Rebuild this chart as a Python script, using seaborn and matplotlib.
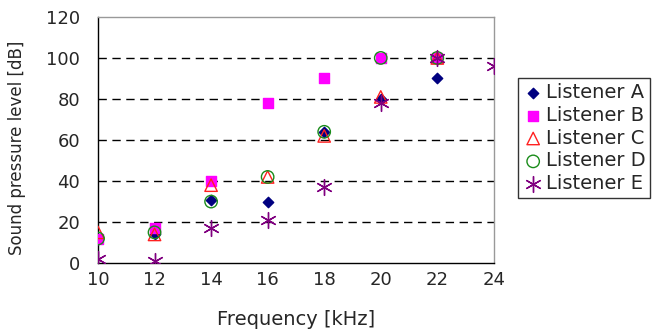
import pandas as pd
import matplotlib
matplotlib.use('Agg')
import matplotlib.pyplot as plt
import seaborn as sns

## Hearing threshold of each listener at high frequencies

# Frequencies [kHz] and sound pressure levels [dB]
freq_a = [10, 12, 14, 16, 18, 20, 22]
spl_a = [12, 14, 31, 30, 64, 80, 90]

freq_b = [10, 12, 14, 16, 18, 20, 22]
spl_b = [12, 17, 40, 78, 90, 100, 100]

freq_c = [10, 12, 14, 16, 18, 20, 22]
spl_c = [15, 14, 38, 42, 62, 81, 100]

freq_d = [10, 12, 14, 16, 18, 20, 22]
spl_d = [12, 15, 30, 42, 64, 100, 100]

freq_e = [10, 12, 14, 16, 18, 20, 22, 24]
spl_e = [2, 1, 17, 21, 37, 78, 100, 96]

listeners = ['Listener A', 'Listener B', 'Listener C', 'Listener D', 'Listener E']

# Build one long table for seaborn
frames = []
for name, f, s in zip(listeners,
                      [freq_a, freq_b, freq_c, freq_d, freq_e],
                      [spl_a, spl_b, spl_c, spl_d, spl_e]):
    frames.append(pd.DataFrame({'Frequency': f, 'SPL': s, 'Listener': name}))
df = pd.concat(frames, ignore_index=True)

sns.set_style('white')
plt.rcParams['font.family'] = ['DejaVu Sans']

# marker style per listener: (marker, face, edge, size)
styles = {
    'Listener A': ('D', '#000080', '#000080', 28),
    'Listener B': ('s', '#ff00ff', '#ff00ff', 55),
    'Listener C': ('^', 'none', '#ff2020', 80),
    'Listener D': ('o', 'none', '#1a8c1a', 80),
    'Listener E': ((6, 2, 0), '#800080', '#800080', 130),
}

fig, ax = plt.subplots(figsize=(6.62, 3.31), dpi=100)
fig.subplots_adjust(left=0.148, right=0.746, top=0.949, bottom=0.205)

for name in listeners:
    m, fc, ec, sz = styles[name]
    sub = df[df['Listener'] == name]
    sns.scatterplot(data=sub, x='Frequency', y='SPL', ax=ax, marker=m,
                    s=sz, facecolor=fc, edgecolor=ec, linewidth=1.0,
                    label=name, zorder=3)

ax.set_xlim(10, 24)
ax.set_ylim(0, 120)
ax.set_xticks(range(10, 25, 2))
ax.set_yticks(range(0, 121, 20))

# dashed grid lines at 20..100
for y in range(20, 101, 20):
    ax.axhline(y, color='black', linestyle=(0, (6, 4)), linewidth=1.0, zorder=1)

ax.set_xlabel('Frequency [kHz]', fontsize=14)
ax.set_ylabel('Sound pressure level [dB]', fontsize=12)
ax.xaxis.set_label_coords(0.5, -0.19)
ax.yaxis.set_label_coords(-0.182, 0.47)
ax.tick_params(axis='both', labelsize=13, direction='in', length=5, color='black')
ax.tick_params(axis='x', pad=6)
ax.tick_params(axis='y', length=0, pad=13)

for side in ['left', 'bottom']:
    ax.spines[side].set_color('black')
    ax.spines[side].set_linewidth(1.0)
for side in ['top', 'right']:
    ax.spines[side].set_color('#999999')
    ax.spines[side].set_linewidth(1.0)

leg = ax.legend(loc='upper left', bbox_to_anchor=(1.06, 0.752), fontsize=14,
                frameon=True, fancybox=False, edgecolor='black',
                handletextpad=0.1, borderpad=0.25, labelspacing=0.2,
                handlelength=1.1, borderaxespad=0)
leg.get_frame().set_linewidth(1.0)

plt.savefig('out.png', dpi=100)
